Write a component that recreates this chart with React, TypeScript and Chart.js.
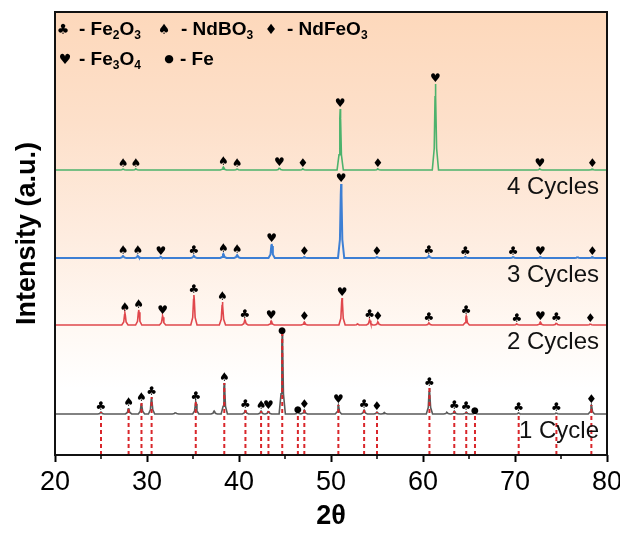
import React, { useEffect, useRef } from 'react';
import { Chart, registerables } from 'chart.js';

Chart.register(...registerables);

const FONT = "'Liberation Sans', Arial, sans-serif";
const SYM_FONT = "'DejaVu Sans', sans-serif";

const X_MIN = 20;
const X_MAX = 80;
const X_STEP = 10;
const minorTickValues = [25, 35, 45, 55, 65, 75];

const cycleLabels = ['1 Cycle', '2 Cycles', '3 Cycles', '4 Cycles'];
const cycleColors = ['#5a5a5a', '#e0474c', '#3d7fd4', '#4cb26c'];
const baselineOffsets = [41, 130, 197, 285];

// 1 Cycle
const c1Pos = [25.0, 28.0, 29.4, 30.5, 33.1, 35.3, 37.3, 38.4, 40.7, 42.4, 43.2, 44.7, 46.4, 47.1, 50.8, 53.6, 55.0, 55.8, 60.7, 62.6, 63.4, 64.7, 65.65, 70.4, 74.5, 78.3];
const c1Int = [2, 6, 11, 17, 1.5, 12, 3, 31, 4, 3, 3, 81, 2, 4, 9, 4, 2, 1.5, 26, 1.5, 3, 2, 1, 1, 1, 9];
const c1Sym = ['♣', '♠', '♠', '♣', '', '♣', '', '♠', '♣', '♠', '♥', '●', '●', '♦', '♥', '♣', '♦', '', '♣', '', '♣', '♣', '●', '♣', '♣', '♦'];

// 2 Cycles
const c2Pos = [27.6, 29.1, 31.7, 35.1, 38.2, 40.65, 43.5, 47.1, 51.2, 52.9, 54.2, 55.1, 60.65, 64.7, 70.2, 72.75, 74.5, 78.2];
const c2Int = [12, 15, 9, 30, 23, 5, 4, 3, 27, 1, 5, 3, 2, 9, 1, 3, 2, 1];
const c2Sym = ['♠', '♠', '♥', '♣', '♠', '♣', '♥', '♦', '♥', '', '♣', '♦', '♣', '♣', '♣', '♥', '♣', '♦'];

// 3 Cycles
const c3Pos = [27.4, 29.0, 31.5, 35.1, 38.3, 39.8, 43.55, 47.1, 51.1, 55.0, 60.65, 64.6, 69.8, 72.75, 76.8, 78.4];
const c3Int = [2, 2, 1, 2, 4, 3, 14, 1, 74, 1, 2, 1, 1, 1, 1, 1];
const c3Sym = ['♠', '♠', '♥', '♣', '♠', '♠', '♥', '♦', '♥', '♦', '♣', '♣', '♣', '♥', '', '♦'];

// 4 Cycles
const c4Pos = [27.4, 28.8, 38.3, 39.8, 44.4, 46.95, 51.0, 55.1, 61.35, 72.7, 78.4];
const c4Int = [1, 1, 3, 1, 2, 1, 61, 1, 86, 1, 1];
const c4Sym = ['♠', '♠', '♠', '♠', '♥', '♦', '♥', '♦', '♥', '♥', '♦'];

const allPos = [c1Pos, c2Pos, c3Pos, c4Pos];
const allInt = [c1Int, c2Int, c3Int, c4Int];
const allSym = [c1Sym, c2Sym, c3Sym, c4Sym];

type Pt = { x: number; y: number };

function buildTrace(pos: number[], ints: number[], offset: number): Pt[] {
  const pts: Pt[] = [{ x: X_MIN, y: offset }];
  pos.forEach((p, i) => {
    const h = ints[i];
    pts.push(
      { x: p - 0.34, y: offset },
      { x: p - 0.13, y: offset + h * 0.25 },
      { x: p - 0.04, y: offset + h * 0.85 },
      { x: p, y: offset + h },
      { x: p + 0.04, y: offset + h * 0.85 },
      { x: p + 0.13, y: offset + h * 0.25 },
      { x: p + 0.34, y: offset }
    );
  });
  pts.push({ x: X_MAX, y: offset });
  return pts;
}

const symFont = (ch: string, size: number) => `${ch === '●' ? Math.round(size * 0.75) : size}px ${SYM_FONT}`;

const overlayPlugin = {
  id: 'overlay',
  beforeDraw(chart: any) {
    const { ctx, chartArea } = chart;
    const { left, top, right, bottom } = chartArea;
    const g = ctx.createLinearGradient(0, top, 0, bottom);
    g.addColorStop(0, '#fdd8bb');
    g.addColorStop(0.25, '#fde0ca');
    g.addColorStop(0.5, '#feecdf');
    g.addColorStop(0.72, '#fff9f4');
    g.addColorStop(0.85, '#ffffff');
    ctx.save();
    ctx.fillStyle = g;
    ctx.fillRect(left, top, right - left, bottom - top);
    ctx.restore();
  },
  afterDatasetsDraw(chart: any) {
    const { ctx, chartArea, scales } = chart;
    const xs = scales.x;
    const ys = scales.y;
    ctx.save();
    // peak symbols
    ctx.fillStyle = '#000';
    ctx.textAlign = 'center';
    ctx.textBaseline = 'alphabetic';
    allPos.forEach((pos, s) => {
      pos.forEach((p, i) => {
        const sym = allSym[s][i];
        if (!sym) return;
        const px = xs.getPixelForValue(p);
        const py = ys.getPixelForValue(baselineOffsets[s] + allInt[s][i]);
        ctx.font = symFont(sym, 12);
        ctx.fillText(sym, px, sym === '●' ? py : py - 2);
      });
    });
    // cycle labels
    ctx.font = `24px ${FONT}`;
    ctx.textAlign = 'right';
    ctx.textBaseline = 'middle';
    ctx.fillStyle = '#111';
    cycleLabels.forEach((lab, s) => {
      ctx.fillText(lab, chartArea.right - 8, ys.getPixelForValue(baselineOffsets[s]) + 17);
    });
    // frame
    ctx.strokeStyle = '#111';
    ctx.lineWidth = 2;
    ctx.strokeRect(chartArea.left, chartArea.top, chartArea.right - chartArea.left, chartArea.bottom - chartArea.top);
    // minor ticks
    ctx.lineWidth = 1.5;
    ctx.strokeStyle = '#000';
    minorTickValues.forEach((v) => {
      const px = xs.getPixelForValue(v);
      ctx.beginPath();
      ctx.moveTo(px, chartArea.bottom);
      ctx.lineTo(px, chartArea.bottom + 4);
      ctx.stroke();
    });
    // legend
    const rich = (x: number, y: number, parts: [string, boolean][]) => {
      let cx = x;
      parts.forEach(([t, sub]) => {
        ctx.font = sub ? `bold 12px ${FONT}` : `bold 19px ${FONT}`;
        ctx.fillText(t, cx, sub ? y + 4 : y);
        cx += ctx.measureText(t).width;
      });
    };
    const sym = (ch: string, x: number, y: number) => {
      ctx.font = symFont(ch, 14);
      ctx.textAlign = 'center';
      ctx.fillText(ch, x, ch === '●' ? y - 2 : y);
      ctx.textAlign = 'left';
    };
    ctx.fillStyle = '#000';
    ctx.textAlign = 'left';
    ctx.textBaseline = 'alphabetic';
    const l1 = chartArea.top + 23;
    const l2 = chartArea.top + 53;
    sym('♣', 63, l1 - 1);
    rich(79, l1, [['- Fe', false], ['2', true], ['O', false], ['3', true]]);
    sym('♠', 164, l1 - 1);
    rich(181, l1, [['- NdBO', false], ['3', true]]);
    sym('♦', 271, l1 - 1);
    rich(287, l1, [['- NdFeO', false], ['3', true]]);
    sym('♥', 65, l2 - 1);
    rich(79, l2, [['- Fe', false], ['3', true], ['O', false], ['4', true]]);
    sym('●', 169, l2 - 1);
    rich(180, l2, [['- Fe', false]]);
    ctx.restore();
  },
};

export default function App() {
  const ref = useRef<HTMLCanvasElement | null>(null);
  useEffect(() => {
    if (!ref.current) return;
    const datasets: any[] = [];
    // reference dashed lines at 1-cycle peaks
    c1Pos.forEach((p, i) => {
      if (!c1Sym[i]) return;
      datasets.push({
        data: [
          { x: p, y: 0 },
          { x: p, y: baselineOffsets[0] + c1Int[i] },
        ],
        borderColor: '#d9262b',
        borderWidth: 2,
        borderDash: [4, 3],
        pointRadius: 0,
      });
    });
    allPos.forEach((pos, s) => {
      datasets.push({
        label: cycleLabels[s],
        data: buildTrace(pos, allInt[s], baselineOffsets[s]),
        borderColor: cycleColors[s],
        borderWidth: s === 2 ? 2 : 1.6,
        pointRadius: 0,
        tension: 0,
      });
    });
    const chart = new Chart(ref.current, {
      type: 'line',
      data: { datasets },
      options: {
        animation: false,
        responsive: false,
        layout: { padding: { top: 12, right: 13, bottom: 0, left: 0 } },
        plugins: { legend: { display: false }, tooltip: { enabled: false } },
        scales: {
          x: {
            type: 'linear',
            min: X_MIN,
            max: X_MAX,
            afterFit: (s: any) => {
              s.height = 78;
              s.paddingLeft = 0;
              s.paddingRight = 0;
            },
            grid: { drawOnChartArea: false, drawTicks: true, tickLength: 7, tickColor: '#000', tickWidth: 2 },
            border: { display: false },
            ticks: { stepSize: X_STEP, color: '#000', font: { size: 27, family: FONT }, padding: 4, maxRotation: 0, autoSkip: false },
            title: { display: true, text: '2θ', color: '#000', font: { size: 27, weight: 'bold', family: FONT }, padding: { top: 0, bottom: 0 } },
          },
          y: {
            type: 'linear',
            min: 0,
            max: 443,
            afterFit: (s: any) => {
              s.width = 55;
            },
            ticks: { display: false },
            grid: { display: false },
            border: { display: false },
            title: { display: true, text: 'Intensity (a.u.)', color: '#000', font: { size: 27, weight: 'bold', family: FONT }, padding: { top: 11, bottom: 0 } },
          },
        },
      } as any,
      plugins: [overlayPlugin],
    });
    return () => chart.destroy();
  }, []);
  return (
    <div style={{ position: 'absolute', left: 0, top: 0, width: 620, height: 533 }}>
      <canvas ref={ref} width={620} height={533} style={{ display: 'block', width: 620, height: 533 }} />
    </div>
  );
}
